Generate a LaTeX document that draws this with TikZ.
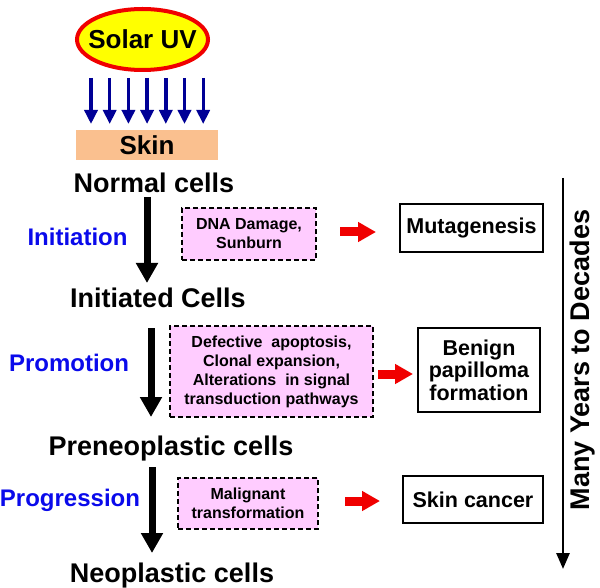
\documentclass[tikz,border=0pt]{standalone}
\usepackage{fontspec}
\setmainfont{Liberation Sans}
\usetikzlibrary{arrows.meta,shapes.geometric}
\definecolor{sunfill}{RGB}{255,255,0}
\definecolor{sunline}{RGB}{240,0,0}
\definecolor{skinfill}{RGB}{250,192,143}
\definecolor{pinkfill}{RGB}{255,204,255}
\definecolor{labblue}{RGB}{10,10,235}
\definecolor{uvblue}{RGB}{0,0,150}
\definecolor{redarr}{RGB}{240,0,0}
\tikzset{
  celltext/.style={font=\fontsize{27}{30}\selectfont\bfseries, anchor=base, inner sep=0pt},
  stagetext/.style={font=\fontsize{24}{28}\selectfont\bfseries, text=labblue, inner sep=0pt},
  pinkbox/.style={draw=black, fill=pinkfill, line width=1.8pt, dash pattern=on 5pt off 3pt,
     align=center, inner sep=0pt, font=\fontsize{16}{19}\selectfont\bfseries},
  outbox/.style={draw=black, fill=white, line width=2.2pt, align=center, inner sep=0pt,
     font=\fontsize{21.5}{22.5}\selectfont\bfseries},
  blackarrow/.style={line width=7pt, -{Triangle[width=21pt,length=20pt]}},
  redarrow/.style={line width=9pt, draw=redarr, -{Triangle[width=19pt,length=18pt]}},
  uvarrow/.style={line width=3.4pt, draw=uvblue, -{Triangle[width=13pt,length=14pt]}},
  timearrow/.style={line width=2.8pt, -{Triangle[width=13pt,length=16pt]}},
}
\begin{document}
\begin{tikzpicture}[x=1pt,y=-1pt]
\useasboundingbox (0,0) rectangle (600,588);
\fill[white] (0,0) rectangle (600,588);

% Solar UV and skin
\node[ellipse, draw=sunline, fill=sunfill, line width=4pt, minimum width=131pt,
      minimum height=61pt, inner sep=0pt] (sun) at (142.5,39.5) {};
\node[inner sep=0pt, font=\fontsize{26}{28}\selectfont\bfseries] (sunlabel) at (sun.center) {Solar UV};
\node[fill=skinfill, minimum width=142pt, minimum height=30pt, inner sep=0pt,
      font=\fontsize{26}{28}\selectfont\bfseries] (skin) at (147,145) {Skin};
\foreach \i in {0,...,6}{
  \coordinate (uvs\i) at ({91+\i*18.7},78);
  \coordinate (uve\i) at ({91+\i*18.7},124);
  \draw[uvarrow] (uvs\i) -- (uve\i);
}

% cell stages
\node[celltext] (normal) at (154,193) {Normal cells};
\node[celltext] (initiated) at (158,308) {Initiated Cells};
\node[celltext] (prenoplastic) at (171,455) {Preneoplastic cells};
\node[celltext] (neoplastic) at (172,582) {Neoplastic cells};

\coordinate (a1s) at (147,197); \coordinate (a1e) at (147,283);
\coordinate (a2s) at (151,328); \coordinate (a2e) at (151,417);
\coordinate (a3s) at (152,467); \coordinate (a3e) at (152,553);
\draw[blackarrow] (a1s) -- (a1e);
\draw[blackarrow] (a2s) -- (a2e);
\draw[blackarrow] (a3s) -- (a3e);

% stage labels
\node[stagetext] (initiation) at (77.5,237) {Initiation};
\node[stagetext] (promotion) at (69,363) {Promotion};
\node[stagetext] (progression) at (70,500) {Progression};

% mechanism boxes
\node[pinkbox, minimum width=134pt, minimum height=52pt] (p1) at (249,234)
  {DNA Damage,\\Sunburn};
\node[pinkbox, minimum width=203pt, minimum height=91pt] (p2) at (271.5,371.5)
  {Defective\ \ apoptosis,\\Clonal expansion,\\Alterations\ \ in signal\\transduction pathways};
\node[pinkbox, minimum width=140pt, minimum height=51pt] (p3) at (248,503.5)
  {Malignant\\transformation};

% outcome boxes
\node[outbox, minimum width=143pt, minimum height=48pt] (mut) at (471.5,228) {Mutagenesis};
\node[outbox, minimum width=122pt, minimum height=84pt] (benign) at (479,370)
  {Benign\\papilloma\\formation};
\node[outbox, minimum width=140pt, minimum height=47pt] (cancer) at (473,499.5) {Skin cancer};

% red arrows
\coordinate (r1s) at (340,232); \coordinate (r1e) at (376,232);
\coordinate (r2s) at (378,374); \coordinate (r2e) at (413,374);
\coordinate (r3s) at (345,501); \coordinate (r3e) at (380,501);
\draw[redarrow] (r1s) -- (r1e);
\draw[redarrow] (r2s) -- (r2e);
\draw[redarrow] (r3s) -- (r3e);

% time arrow
\coordinate (ts) at (563,178); \coordinate (te) at (563,569);
\draw[timearrow] (ts) -- (te);
\node[rotate=90, inner sep=0pt, font=\fontsize{27}{30}\selectfont\bfseries] (years) at (583,360)
  {Many Years to Decades};
\end{tikzpicture}
\end{document}
